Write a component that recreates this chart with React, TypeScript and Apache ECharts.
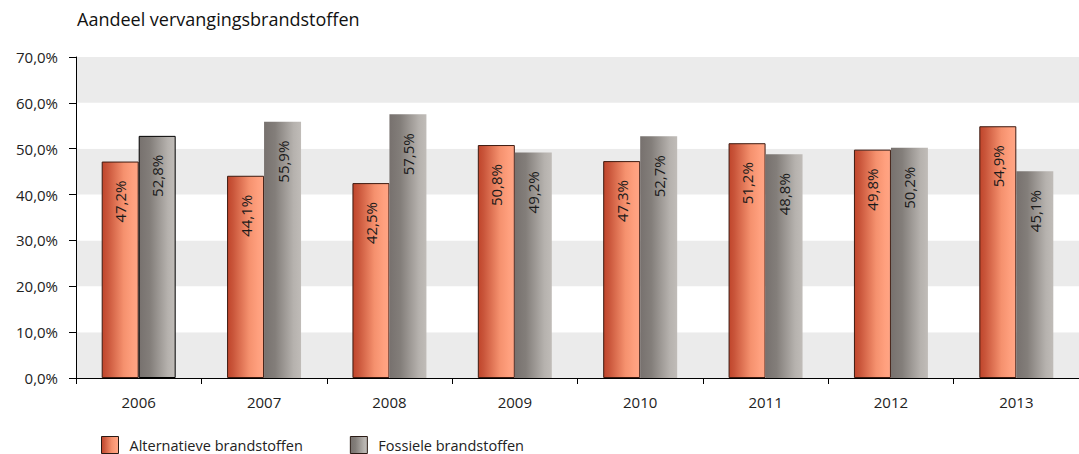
import React, { useEffect, useRef } from "react";
import * as echarts from "echarts";

const title = "Aandeel vervangingsbrandstoffen";
const categories = ["2006", "2007", "2008", "2009", "2010", "2011", "2012", "2013"];
const alternatief = [47.2, 44.1, 42.5, 50.8, 47.3, 51.2, 49.8, 54.9];
const fossiel = [52.8, 55.9, 57.5, 49.2, 52.7, 48.8, 50.2, 45.1];
const seriesNames = ["Alternatieve brandstoffen", "Fossiele brandstoffen"];

const FONT = "'Open Sans', 'Noto Sans', sans-serif";

const fmt = (v: number) => v.toFixed(1).replace(".", ",") + "%";

export default function App() {
  const ref = useRef<HTMLDivElement>(null);
  useEffect(() => {
    document.body.style.margin = "0";
    if (!ref.current) return;
    const chart = echarts.init(ref.current, undefined, { renderer: "svg" });
    const orange = new echarts.graphic.LinearGradient(0, 0, 1, 0, [
      { offset: 0, color: "#c0452b" },
      { offset: 0.15, color: "#c9553a" },
      { offset: 0.6, color: "#f5916e" },
      { offset: 0.85, color: "#ffa07e" },
      { offset: 1, color: "#ffa585" },
    ]);
    const gray = new echarts.graphic.LinearGradient(0, 0, 1, 0, [
      { offset: 0, color: "#77716e" },
      { offset: 0.3, color: "#837e7a" },
      { offset: 0.8, color: "#b6b2ae" },
      { offset: 1, color: "#c0bcb8" },
    ]);
    const label = {
      show: true,
      position: "insideTop" as const,
      rotate: 90,
      align: "right" as const,
      verticalAlign: "middle" as const,
      distance: 19,
      formatter: (p: any) => fmt(p.value),
      color: "#1a1a1a",
      fontSize: 15,
      fontFamily: FONT,
    };
    chart.setOption({
      animation: false,
      textStyle: { fontFamily: FONT },
      title: {
        text: title,
        left: 72,
        top: 5,
        textStyle: { fontSize: 18, fontWeight: "normal", color: "#111", fontFamily: FONT },
      },
      legend: {
        left: 101,
        top: 436,
        padding: 0,
        icon: "rect",
        itemWidth: 17,
        itemHeight: 17,
        itemGap: 47,
        data: seriesNames,
        itemStyle: { borderWidth: 1, borderColor: "#2a1a14" },
        textStyle: {
          fontSize: 14.5,
          lineHeight: 16,
          color: "#222",
          fontFamily: FONT,
          padding: [0, 0, 0, 6],
        },
      },
      grid: { left: 76, right: -10, top: 57, bottom: 76 },
      xAxis: {
        type: "category",
        data: categories,
        axisLine: { lineStyle: { color: "#000", width: 1 } },
        axisTick: { show: true, length: 6, lineStyle: { color: "#000" } },
        axisLabel: { fontSize: 15, color: "#222", margin: 16, fontFamily: FONT },
      },
      yAxis: {
        type: "value",
        min: 0,
        max: 70,
        interval: 10,
        axisLine: { show: true, lineStyle: { color: "#000", width: 1 } },
        axisTick: { show: true, length: 7, lineStyle: { color: "#000" } },
        axisLabel: {
          fontSize: 15,
          color: "#222",
          margin: 18,
          fontFamily: FONT,
          formatter: (v: number) => fmt(v),
        },
        splitLine: { show: false },
        splitArea: { show: true, areaStyle: { color: ["#ebebeb", "#ffffff"] } },
      },
      series: [
        {
          name: seriesNames[0],
          type: "bar",
          data: alternatief,
          barGap: "0%",
          barCategoryGap: "41%",
          itemStyle: { color: orange, borderColor: "#3d1a10", borderWidth: 1 },
          label,
        },
        {
          name: seriesNames[1],
          type: "bar",
          data: fossiel.map((v, i) =>
            i === 0
              ? { value: v, itemStyle: { borderColor: "#000", borderWidth: 1 } }
              : v
          ),
          itemStyle: { color: gray, borderColor: "#000", borderWidth: 0 },
          label,
        },
      ],
    });
    return () => chart.dispose();
  }, []);
  return <div ref={ref} style={{ width: 1079, height: 454 }} />;
}
